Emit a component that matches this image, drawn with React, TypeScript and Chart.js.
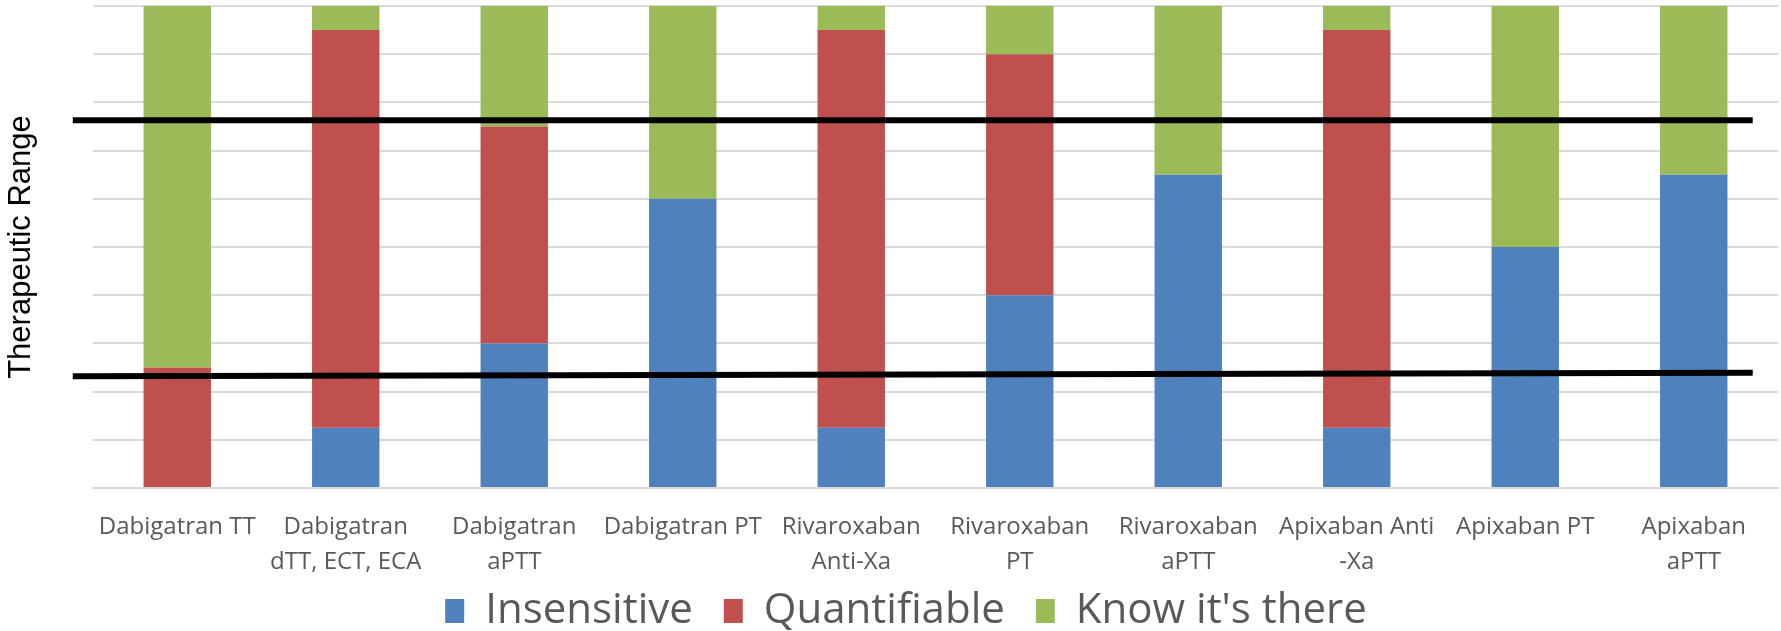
import React, { useEffect, useRef } from "react";
import { Chart, registerables } from "chart.js";

Chart.register(...registerables);

const categories: (string | string[])[] = [
  "Dabigatran TT",
  ["Dabigatran", "dTT, ECT, ECA"],
  ["Dabigatran", "aPTT"],
  "Dabigatran PT",
  ["Rivaroxaban", "Anti-Xa"],
  ["Rivaroxaban", "PT"],
  ["Rivaroxaban", "aPTT"],
  ["Apixaban Anti", "-Xa"],
  "Apixaban PT",
  ["Apixaban", "aPTT"],
];

const insensitive = [0, 1.25, 3, 6, 1.25, 4, 6.5, 1.25, 5, 6.5];
const quantifiable = [2.5, 8.25, 4.5, 0, 8.25, 5, 0, 8.25, 0, 0];
const knowItsThere = [7.5, 0.5, 2.5, 4, 0.5, 1, 3.5, 0.5, 5, 3.5];

// Therapeutic range marker lines: x in category-index units, y in value units
const rangeLineX = [-0.62, 9.35];
const upperLineY = [7.63, 7.63];
const lowerLineY = [2.32, 2.39];

const yMin = 0;
const yMax = 10;

const rangeLinesPlugin = {
  id: "rangeLines",
  afterDatasetsDraw(chart: any) {
    const xs = chart.scales.x;
    const ys = chart.scales.y;
    const ctx = chart.ctx;
    ctx.save();
    ctx.strokeStyle = "#000000";
    ctx.lineWidth = 6;
    ctx.lineCap = "butt";
    for (const ly of [upperLineY, lowerLineY]) {
      ctx.beginPath();
      ctx.moveTo(xs.getPixelForValue(rangeLineX[0]), ys.getPixelForValue(ly[0]));
      ctx.lineTo(xs.getPixelForValue(rangeLineX[1]), ys.getPixelForValue(ly[1]));
      ctx.stroke();
    }
    ctx.restore();
  },
};

// x-axis labels are allowed to spill into the legend band (as in the original),
// and the legend sits a little lower / right in that band.
const X_LABEL_EXTRA = 60;
const LEGEND_SHIFT_Y = 11;
const LEGEND_SHIFT_X = 17;
const layoutTweakPlugin = {
  id: "layoutTweak",
  afterLayout(chart: any) {
    const xs = chart.scales.x;
    if (xs) xs.bottom = xs.top + xs.height + X_LABEL_EXTRA;
    const l = chart.legend;
    if (l) {
      l.top += LEGEND_SHIFT_Y;
      l.bottom += LEGEND_SHIFT_Y;
      l.left += LEGEND_SHIFT_X;
      l.right += LEGEND_SHIFT_X;
    }
  },
};

export default function App() {
  const ref = useRef<HTMLCanvasElement | null>(null);

  useEffect(() => {
    document.body.style.margin = "0";
    if (!ref.current) return;
    const labelColor = "#595959";
    const barCommon = {
      borderWidth: 0,
      barPercentage: 0.4,
      categoryPercentage: 1.0,
    };
    const chart = new Chart(ref.current, {
      type: "bar",
      data: {
        labels: categories,
        datasets: [
          { label: "Insensitive", data: insensitive, backgroundColor: "#4F81BD", ...barCommon },
          { label: "Quantifiable", data: quantifiable, backgroundColor: "#C0504D", ...barCommon },
          { label: "Know it's there", data: knowItsThere, backgroundColor: "#9BBB59", ...barCommon },
        ],
      },
      options: {
        animation: false,
        responsive: true,
        maintainAspectRatio: false,
        layout: { padding: { top: 6, right: 3, left: 0, bottom: 0 } },
        plugins: {
          tooltip: { enabled: false },
          legend: {
            position: "bottom",
            labels: {
              boxWidth: 19,
              boxHeight: 24,
              padding: 31,
              color: labelColor,
              font: { family: "'Open Sans'", size: 42 },
            },
          },
        },
        scales: {
          x: {
            stacked: true,
            grid: { display: false, drawTicks: false },
            border: { display: true, color: "#d9d9d9", width: 2 },
            ticks: {
              color: labelColor,
              font: { family: "'Open Sans'", size: 24, lineHeight: 1.45 },
              padding: 22,
              maxRotation: 0,
              autoSkip: false,
            },
            afterFit: (s: any) => {
              s.height = 60;
            },
          },
          y: {
            stacked: true,
            min: yMin,
            max: yMax,
            ticks: { display: false, stepSize: 1 },
            grid: { color: "#d9d9d9", lineWidth: 2, drawTicks: false },
            border: { display: false },
            title: {
              display: true,
              text: "Therapeutic Range",
              color: "#000000",
              font: { family: "'Liberation Sans'", size: 31 },
              padding: { top: 3, bottom: 0 },
            },
            afterFit: (s: any) => {
              s.width = 93;
            },
          },
        },
      },
      plugins: [rangeLinesPlugin, layoutTweakPlugin],
    });
    return () => chart.destroy();
  }, []);

  return (
    <div style={{ width: "1781px", height: "631px", position: "relative" }}>
      <canvas ref={ref} />
    </div>
  );
}
